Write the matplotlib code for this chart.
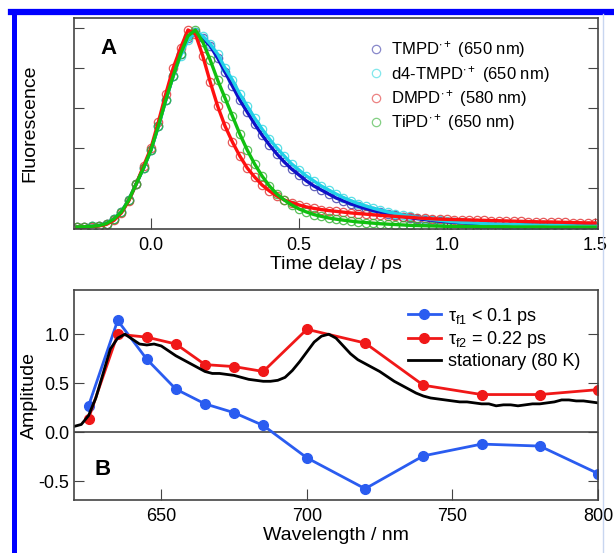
import numpy as np
from matplotlib import pyplot as plt
from matplotlib.lines import Line2D

plt.rcParams['font.family'] = ['Liberation Sans', 'DejaVu Sans']
plt.rcParams['mathtext.default'] = 'regular'

## Data ##
# panel A: normalised fluorescence traces, sampled every 25 fs
t = np.round(np.arange(-0.25, 1.5001, 0.025), 3)

tmpd = [0.005, 0.006, 0.008, 0.012, 0.022, 0.045, 0.08, 0.14, 0.22, 0.30, 0.39, 0.51, 0.64, 0.76,
        0.87, 0.95, 0.98, 0.95, 0.91, 0.85, 0.78, 0.71, 0.64, 0.58, 0.52, 0.465, 0.415, 0.37,
        0.33, 0.295, 0.265, 0.235, 0.21, 0.19, 0.17, 0.15, 0.135, 0.12, 0.108, 0.097, 0.087,
        0.078, 0.070, 0.063, 0.057, 0.051, 0.046, 0.042, 0.038, 0.034, 0.031,
        0.028, 0.026, 0.024, 0.022, 0.020, 0.019, 0.018, 0.017, 0.016, 0.015, 0.014, 0.013,
        0.013, 0.012, 0.012, 0.011, 0.011, 0.010, 0.010, 0.010]
d4tmpd = [0.005, 0.006, 0.008, 0.012, 0.022, 0.045, 0.08, 0.14, 0.22, 0.30, 0.39, 0.51, 0.64, 0.76,
          0.86, 0.94, 0.98, 0.96, 0.92, 0.87, 0.80, 0.74, 0.67, 0.61, 0.55, 0.495, 0.445, 0.40,
          0.36, 0.32, 0.29, 0.26, 0.235, 0.21, 0.19, 0.17, 0.152, 0.136, 0.122, 0.11, 0.099,
          0.089, 0.080, 0.072, 0.065, 0.058, 0.052, 0.047, 0.042, 0.038, 0.034,
          0.031, 0.028, 0.026, 0.024, 0.022, 0.020, 0.019, 0.018, 0.017, 0.016, 0.015, 0.014,
          0.013, 0.012, 0.012, 0.011, 0.011, 0.010, 0.010, 0.010]
dmpd = [0.004, 0.005, 0.007, 0.010, 0.018, 0.038, 0.075, 0.135, 0.22, 0.31, 0.40, 0.53, 0.67, 0.80,
        0.90, 0.99, 0.97, 0.86, 0.73, 0.61, 0.51, 0.43, 0.36, 0.30, 0.255, 0.215, 0.185, 0.16,
        0.14, 0.127, 0.115, 0.105, 0.098, 0.092, 0.087, 0.083, 0.079, 0.075, 0.072, 0.069, 0.066,
        0.063, 0.060, 0.058, 0.055, 0.053, 0.050, 0.048, 0.046, 0.044, 0.043,
        0.042, 0.041, 0.040, 0.039, 0.038, 0.037, 0.036, 0.035, 0.034, 0.033, 0.032, 0.031,
        0.030, 0.030, 0.029, 0.028, 0.027, 0.026, 0.025, 0.025]
tipd = [0.005, 0.006, 0.008, 0.012, 0.022, 0.045, 0.08, 0.14, 0.22, 0.30, 0.39, 0.51, 0.64, 0.76,
        0.87, 0.96, 0.99, 0.93, 0.84, 0.74, 0.65, 0.56, 0.47, 0.39, 0.32, 0.26, 0.21, 0.17,
        0.14, 0.115, 0.095, 0.08, 0.067, 0.058, 0.05, 0.044, 0.039, 0.034, 0.030, 0.027, 0.024,
        0.021, 0.019, 0.017, 0.015, 0.013, 0.012, 0.011, 0.010, 0.009, 0.008,
        0.008, 0.007, 0.007, 0.007, 0.006, 0.006, 0.006, 0.006, 0.005, 0.005, 0.005, 0.005,
        0.005, 0.004, 0.004, 0.004, 0.004, 0.004, 0.004, 0.004]

traces = [
    (tmpd, '#3a3aa8', '#1010c8', r'TMPD$^{\cdot+}$ (650 nm)'),
    (d4tmpd, '#30d8e0', '#20d0e8', r'd4-TMPD$^{\cdot+}$ (650 nm)'),
    (dmpd, '#e03030', '#ff1010', r'DMPD$^{\cdot+}$ (580 nm)'),
    (tipd, '#30b030', '#10c010', r'TiPD$^{\cdot+}$ (650 nm)'),
]

# panel B: decay-associated amplitudes
wl = [625, 635, 645, 655, 665, 675, 685, 700, 720, 740, 760, 780, 800]
amp_f1 = [0.27, 1.14, 0.745, 0.44, 0.29, 0.20, 0.07, -0.26, -0.575, -0.24, -0.12, -0.14, -0.42]
amp_f2 = [0.14, 1.0, 0.97, 0.90, 0.69, 0.67, 0.62, 1.05, 0.91, 0.48, 0.385, 0.385, 0.435]

# stationary spectrum at 80 K, every 2.5 nm from 620 to 800
wl_stat = np.arange(620, 800.1, 2.5)
stat = [0.06, 0.08, 0.17, 0.35, 0.60, 0.85, 0.96, 1.0, 0.95, 0.90, 0.89, 0.90, 0.88,
        0.83, 0.78, 0.74, 0.70, 0.66, 0.62, 0.60, 0.60, 0.59, 0.58, 0.56, 0.54, 0.53,
        0.52, 0.52, 0.53, 0.56, 0.63, 0.72, 0.82, 0.92, 0.98, 1.0, 0.96, 0.88, 0.80,
        0.74, 0.70, 0.66, 0.62, 0.57, 0.52, 0.48, 0.44, 0.40, 0.37, 0.35, 0.34, 0.33,
        0.32, 0.31, 0.31, 0.30, 0.29, 0.29, 0.27, 0.28, 0.28, 0.27, 0.28, 0.29, 0.29,
        0.30, 0.31, 0.33, 0.33, 0.32, 0.32, 0.31, 0.30]

## Plotting ##
fig = plt.figure(figsize=(6.14, 5.53), dpi=100)
spine_col = '#444444'

axA = fig.add_axes([0.1205, 0.586, 0.8535, 0.3815])
for vals, mcol, lcol, lab in traces:
    axA.plot(t, vals, 'o', ms=6, mfc='none', mec=mcol, mew=0.9, alpha=0.8, label=lab)
for vals, mcol, lcol, lab in traces:
    axA.plot(t, vals, '-', color=lcol, lw=2.4)
axA.set_xlim(-0.26, 1.51)
axA.set_ylim(-0.005, 1.05)
axA.set_xticks([0.0, 0.5, 1.0, 1.5])
axA.set_xticklabels(['0.0', '0.5', '1.0', '1.5'])
axA.set_yticks([0, 0.2, 0.4, 0.6, 0.8, 1.0])
axA.tick_params(axis='y', labelleft=False, right=True, direction='in', length=7, color=spine_col)
axA.tick_params(axis='x', direction='in', length=8, color=spine_col, labelsize=13, pad=6)
axA.set_xlabel('Time delay / ps', fontsize=14, labelpad=1)
axA.set_ylabel('Fluorescence', fontsize=14)
axA.yaxis.set_label_coords(-0.068, 0.5)
axA.text(0.05, 0.83, 'A', transform=axA.transAxes, fontsize=16, fontweight='bold')
legA = axA.legend(loc='upper right', bbox_to_anchor=(0.92, 0.93), frameon=False, fontsize=12,
                  handletextpad=0.3, labelspacing=0.2, borderaxespad=0.0, handlelength=1.2)
for h in legA.legend_handles:
    h.set_alpha(0.6)

axB = fig.add_axes([0.1205, 0.0958, 0.8535, 0.3797])
axB.axhline(0, color=spine_col, lw=1.2)
axB.plot(wl, amp_f1, '-o', color='#2a5cf0', lw=2, ms=7, label='τ$_{f1}$ < 0.1 ps')
axB.plot(wl, amp_f2, '-o', color='#f01818', lw=2, ms=7, label='τ$_{f2}$ = 0.22 ps')
axB.plot(wl_stat, stat, '-', color='black', lw=2, label='stationary (80 K)')
axB.set_xlim(620, 800)
axB.set_ylim(-0.69, 1.45)
axB.set_xticks([650, 700, 750, 800])
axB.set_yticks([-0.5, 0.0, 0.5, 1.0])
axB.set_yticklabels(['-0.5', '0.0', '0.5', '1.0'])
axB.tick_params(axis='y', right=True, direction='in', length=7, color=spine_col, labelsize=13)
axB.tick_params(axis='x', direction='in', length=8, color=spine_col, labelsize=13, pad=6)
axB.set_xlabel('Wavelength / nm', fontsize=14, labelpad=1)
axB.set_ylabel('Amplitude', fontsize=14)
axB.yaxis.set_label_coords(-0.068, 0.5)
axB.text(0.04, 0.12, 'B', transform=axB.transAxes, fontsize=16, fontweight='bold')
axB.legend(loc='upper right', bbox_to_anchor=(0.98, 0.96), frameon=False, fontsize=13,
           handletextpad=0.4, labelspacing=0.15, borderaxespad=0.0, handlelength=1.8)

for ax in (axA, axB):
    for s in ax.spines.values():
        s.set_color(spine_col)
        s.set_linewidth(1.2)

# blue frame around the figure
fig.add_artist(Line2D([0.022, 0.022], [0, 0.978], color='#0000ff', lw=3.6))
fig.add_artist(Line2D([0.018, 1.0], [0.978, 0.978], color='#0000ff', lw=4.5))
fig.add_artist(Line2D([0.982, 0.982], [0, 0.975], color='#c8d6f0', lw=1))

fig.savefig('out.png', dpi=100)
